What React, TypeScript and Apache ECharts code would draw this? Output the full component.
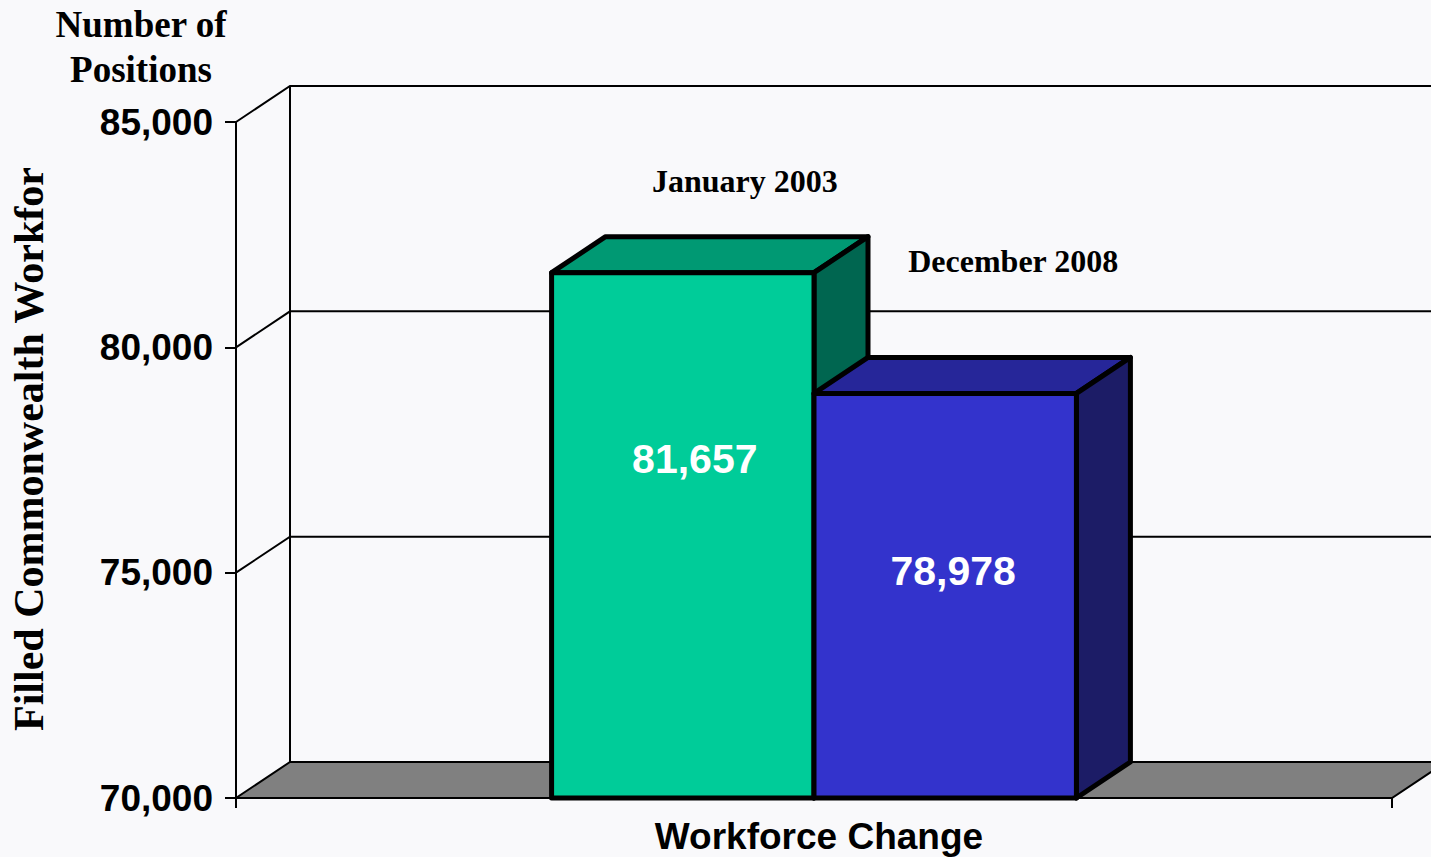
import React, { useEffect, useRef } from "react";
import * as echarts from "echarts";

// ---- data ----
const categories = ["Workforce Change"];
const seriesNames = ["January 2003", "December 2008"];
const values = [81657, 78978];
const yTicks = [70000, 75000, 80000, 85000];
const yTitleLines = ["Number of", "Positions"];
const yAxisName = "Filled Commonwealth Workforce";

// ---- styles ----
const frontColors = ["#00CC99", "#3333CC"];
const topColors = ["#009973", "#262699"];
const sideColors = ["#006650", "#1C1C66"];
const BG = "#F9F9FB";
const SANS = "'Liberation Sans', Arial, Helvetica, sans-serif";
const SERIF = "'Liberation Serif', 'Times New Roman', serif";
const DX = 54;
const DY = -36;
const BAR_FRAC = 0.227;
const nameOffsets = [
  [62, -92],
  [68, -132],
];
const valueOffsets = [
  [12, 186],
  [8, 178],
];

const Y_MIN = yTicks[0];
const Y_MAX = yTicks[yTicks.length - 1];
const Y_STEP = yTicks[1] - yTicks[0];

const fmt = (v: number) => v.toLocaleString("en-US");

export default function App() {
  const ref = useRef<HTMLDivElement>(null);

  useEffect(() => {
    if (!ref.current) return;
    const chart = echarts.init(ref.current, undefined, { renderer: "svg" });

    const frameSeries: any = {
      type: "custom",
      name: "frame",
      z: 1,
      clip: false,
      silent: true,
      data: yTicks.map((v) => [0, v]),
      renderItem: (params: any, api: any) => {
        const cs = params.coordSys;
        const L = cs.x;
        const R = cs.x + cs.width;
        const v = api.value(1);
        const y = api.coord([0, v])[1];
        const base = api.coord([0, Y_MIN])[1];
        const children: any[] = [];
        if (v === Y_MIN) {
          children.push({
            type: "polygon",
            shape: {
              points: [
                [L, y],
                [R, y],
                [R + DX, y + DY],
                [L + DX, y + DY],
              ],
            },
            style: { fill: "#808080", stroke: "#000", lineWidth: 2 },
          });
        } else {
          children.push({
            type: "polyline",
            shape: {
              points: [
                [L, y],
                [L + DX, y + DY],
                [R + DX, y + DY],
              ],
            },
            style: { fill: null, stroke: "#000", lineWidth: 2 },
          });
        }
        if (v === Y_MAX) {
          children.push({
            type: "line",
            shape: { x1: L + DX, y1: y + DY, x2: L + DX, y2: base + DY },
            style: { stroke: "#000", lineWidth: 2 },
          });
        }
        return { type: "group", children };
      },
    };

    const barSeries: any[] = seriesNames.map((name, i) => ({
      type: "custom",
      name,
      z: 3 + i,
      clip: false,
      data: [[0, values[i]]],
      renderItem: (params: any, api: any) => {
        const c = api.coord([api.value(0), api.value(1)]);
        const base = api.coord([api.value(0), Y_MIN])[1];
        const band = api.size([1, 0])[0];
        const w = band * BAR_FRAC;
        const x0 = c[0] + (i - 1) * w;
        const x1 = x0 + w;
        const top = c[1];
        const stroke = { stroke: "#000", lineWidth: 5, lineJoin: "round" };
        const cx = (x0 + x1) / 2;
        return {
          type: "group",
          children: [
            {
              type: "polygon",
              shape: {
                points: [
                  [x0, top],
                  [x0 + DX, top + DY],
                  [x1 + DX, top + DY],
                  [x1, top],
                ],
              },
              style: { fill: topColors[i], ...stroke },
            },
            {
              type: "polygon",
              shape: {
                points: [
                  [x1, top],
                  [x1 + DX, top + DY],
                  [x1 + DX, base + DY],
                  [x1, base],
                ],
              },
              style: { fill: sideColors[i], ...stroke },
            },
            {
              type: "polygon",
              shape: {
                points: [
                  [x0, top],
                  [x1, top],
                  [x1, base],
                  [x0, base],
                ],
              },
              style: { fill: frontColors[i], ...stroke },
            },
            {
              type: "text",
              x: cx + valueOffsets[i][0],
              y: top + valueOffsets[i][1],
              style: {
                text: fmt(api.value(1)),
                fill: "#fff",
                font: `bold 41px ${SANS}`,
                align: "center",
                verticalAlign: "middle",
              },
            },
            {
              type: "text",
              x: cx + nameOffsets[i][0],
              y: top + nameOffsets[i][1],
              style: {
                text: name,
                fill: "#000",
                font: `bold 32px ${SERIF}`,
                align: "center",
                verticalAlign: "middle",
              },
            },
          ],
        };
      },
    }));

    const option: any = {
      animation: false,
      backgroundColor: BG,
      grid: { left: 236, right: 39, top: 122, bottom: 59, containLabel: false },
      xAxis: {
        type: "category",
        data: categories,
        boundaryGap: true,
        axisLine: { show: true, lineStyle: { color: "#000", width: 2 } },
        axisTick: { show: true, length: 10, lineStyle: { color: "#000", width: 2 } },
        axisLabel: {
          margin: 20,
          color: "#000",
          fontSize: 37,
          fontWeight: "bold",
          fontFamily: SANS,
          padding: [0, 0, 0, 10],
        },
        splitLine: { show: false },
      },
      yAxis: {
        type: "value",
        min: Y_MIN,
        max: Y_MAX,
        interval: Y_STEP,
        axisLine: { show: true, lineStyle: { color: "#000", width: 2 } },
        axisTick: { show: true, length: 11, lineStyle: { color: "#000", width: 2 } },
        axisLabel: {
          margin: 23,
          color: "#000",
          fontSize: 37,
          fontWeight: "bold",
          fontFamily: SANS,
          formatter: (v: number) => fmt(v),
        },
        splitLine: { show: false },
      },
      graphic: [
        {
          type: "text",
          x: 141,
          y: 2,
          style: {
            text: yTitleLines.join("\n"),
            fill: "#000",
            font: `bold 37px ${SERIF}`,
            lineHeight: 45,
            align: "center",
            verticalAlign: "top",
          },
        },
        {
          type: "text",
          x: 29,
          y: 731,
          rotation: Math.PI / 2,
          style: {
            text: yAxisName,
            fill: "#000",
            font: `bold 42px ${SERIF}`,
            align: "left",
            verticalAlign: "middle",
            width: 578,
            overflow: "truncate",
            ellipsis: "",
          },
        },
      ],
      series: [frameSeries, ...barSeries],
    };

    chart.setOption(option);
    return () => chart.dispose();
  }, []);

  return (
    <div
      ref={ref}
      style={{ position: "absolute", left: 0, top: 0, width: 1431, height: 857 }}
    />
  );
}
